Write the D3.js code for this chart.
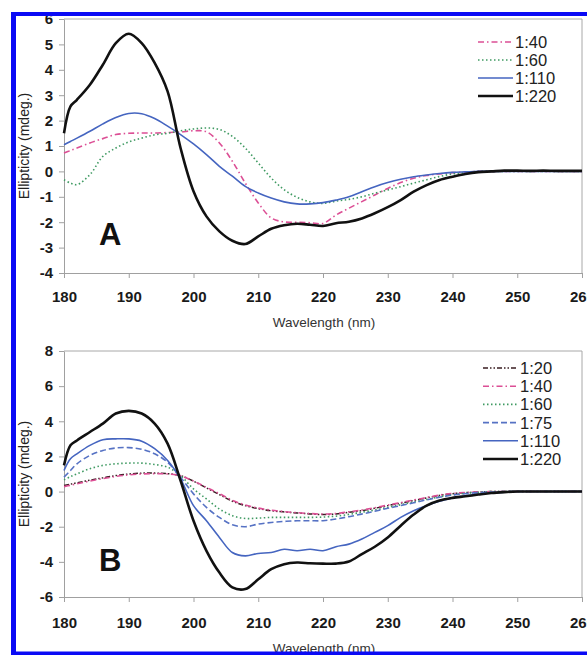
<!DOCTYPE html>
<html>
<head>
<meta charset="utf-8">
<script src="https://cdn.jsdelivr.net/npm/d3@7"></script>
<style>
  body { margin: 0; background: #fff; }
  svg { display: block; font-family: "Liberation Sans", Arial, Helvetica, sans-serif; }
</style>
</head>
<body>
<div id="chart"></div>
<script>
// wavelength grid (nm), shared by every series
let wavelengths = [180, 181, 182, 184, 186, 188, 190, 192, 194, 196, 198, 200, 202, 204, 206, 208, 210,
  212, 214, 216, 218, 220, 222, 224, 226, 228, 230, 232, 234, 236, 238, 240, 242, 244, 246, 248, 250,
  252, 254, 256, 258, 260];

let xTicks = [180, 190, 200, 210, 220, 230, 240, 250, 260];
let yTicksA = [-4, -3, -2, -1, 0, 1, 2, 3, 4, 5, 6];
let yTicksB = [-6, -4, -2, 0, 2, 4, 6, 8];

// panel A
let a40 = [0.72, 0.82, 0.92, 1.12, 1.29, 1.45, 1.5, 1.51, 1.51, 1.53, 1.55, 1.6, 1.56, 1.12, 0.4, -0.46, -1.24,
  -1.83, -1.99, -2.0, -2.02, -2.05, -1.72, -1.45, -1.19, -0.93, -0.67, -0.44, -0.27, -0.16, -0.1, -0.05,
  -0.03, 0, 0, 0, 0, 0, 0, 0, 0, 0];
let a60 = [-0.33, -0.46, -0.52, -0.13, 0.59, 0.92, 1.16, 1.31, 1.44, 1.5, 1.6, 1.67, 1.71, 1.65, 1.38, 0.92, 0.33,
  -0.26, -0.72, -1.02, -1.2, -1.26, -1.17, -1.1, -1.0, -0.86, -0.73, -0.6, -0.46, -0.33, -0.2, -0.1,
  -0.05, 0, 0, 0, 0, 0, 0, 0, 0, 0];
let a110 = [1.05, 1.18, 1.31, 1.58, 1.87, 2.12, 2.28, 2.27, 2.08, 1.78, 1.45, 1.08, 0.66, 0.2, -0.19, -0.59, -0.85,
  -1.05, -1.2, -1.28, -1.28, -1.23, -1.13, -1.0, -0.8, -0.6, -0.44, -0.31, -0.21, -0.14, -0.08, -0.04,
  -0.02, 0, 0, 0, 0, 0, 0, 0, 0, 0];
let a220 = [1.5, 2.56, 2.82, 3.41, 4.2, 5.05, 5.42, 5.05, 4.27, 3.15, 0.92, -0.78, -1.77, -2.36, -2.73, -2.86, -2.56,
  -2.26, -2.12, -2.06, -2.1, -2.15, -2.04, -1.98, -1.85, -1.65, -1.41, -1.13, -0.8, -0.54, -0.34, -0.21,
  -0.1, -0.03, 0, 0.03, 0.03, 0.02, 0.03, 0.02, 0.02, 0.02];

// panel B
let b20 = [0.34, 0.42, 0.5, 0.65, 0.78, 0.91, 1.0, 1.05, 1.05, 1.02, 0.91, 0.59, 0.21, -0.17, -0.55, -0.8, -0.97,
  -1.09, -1.16, -1.22, -1.27, -1.31, -1.28, -1.18, -1.09, -0.95, -0.8, -0.66, -0.51, -0.36, -0.22, -0.12,
  -0.06, -0.03, 0, 0, 0, 0, 0, 0, 0, 0];
let b40 = [0.28, 0.36, 0.44, 0.6, 0.74, 0.86, 0.95, 1.0, 1.02, 1.0, 0.9, 0.6, 0.24, -0.12, -0.5, -0.76, -0.94,
  -1.06, -1.14, -1.2, -1.25, -1.28, -1.25, -1.15, -1.05, -0.92, -0.77, -0.63, -0.48, -0.34, -0.2, -0.11,
  -0.05, -0.02, 0, 0, 0, 0, 0, 0, 0, 0];
let b60 = [0.67, 0.85, 1.01, 1.3, 1.49, 1.58, 1.62, 1.62, 1.54, 1.39, 0.91, 0.15, -0.42, -0.99, -1.37, -1.53, -1.51,
  -1.47, -1.47, -1.47, -1.47, -1.45, -1.4, -1.3, -1.18, -1.05, -0.9, -0.75, -0.6, -0.45, -0.3, -0.18,
  -0.1, -0.05, 0, 0, 0, 0, 0, 0, 0, 0];
let b75 = [0.82, 1.2, 1.58, 2.06, 2.34, 2.48, 2.5, 2.41, 2.15, 1.67, 0.82, -0.13, -0.9, -1.47, -1.89, -2.0, -1.85,
  -1.76, -1.7, -1.66, -1.66, -1.66, -1.56, -1.43, -1.28, -1.12, -0.95, -0.8, -0.64, -0.47, -0.32, -0.2,
  -0.12, -0.06, -0.03, 0, 0, 0, 0, 0, 0, 0];
let b110 = [1.2, 1.87, 2.15, 2.63, 2.95, 3.0, 3.0, 2.87, 2.44, 1.77, 0.72, -0.8, -1.66, -2.61, -3.47, -3.66, -3.52,
  -3.47, -3.28, -3.37, -3.28, -3.37, -3.14, -2.99, -2.7, -2.32, -1.94, -1.47, -1.09, -0.8, -0.55, -0.36,
  -0.24, -0.14, -0.08, -0.03, 0, 0, 0, 0, 0, 0];
let b220 = [1.49, 2.63, 2.91, 3.39, 3.87, 4.44, 4.59, 4.44, 3.87, 2.73, 0.63, -1.66, -3.37, -4.61, -5.45, -5.55, -4.99,
  -4.42, -4.13, -4.04, -4.08, -4.1, -4.1, -3.98, -3.56, -3.14, -2.61, -1.94, -1.31, -0.8, -0.51, -0.36,
  -0.27, -0.17, -0.08, -0.03, 0, 0, 0, 0, 0, 0];

let styles = {
  '1:20': { color: '#3a1e22', width: 1.5, dash: '5,2,1.5,2,1.5,2' },
  '1:40': { color: '#dc4f95', width: 1.6, dash: '6,3,1.5,3' },
  '1:60': { color: '#3f9a62', width: 1.6, dash: '1.5,2.5' },
  '1:75': { color: '#5672c4', width: 1.6, dash: '6,3' },
  '1:110': { color: '#4565c0', width: 1.6, dash: null },
  '1:220': { color: '#111111', width: 2.6, dash: null }
};

let svgWidth = 587;
let svgHeight = 655;

let svg = d3.select('#chart').append('svg')
  .attr('width', svgWidth)
  .attr('height', svgHeight);

function drawPanel(p) {
  let x = d3.scaleLinear().domain([180, 260]).range([p.left, p.right]);
  let y = d3.scaleLinear().domain(p.yDomain).range([p.bottom, p.top]);
  let g = svg.append('g');

  // frame (top + right)
  g.append('path')
    .attr('d', `M${p.left},${p.top}H${p.right}V${p.bottom}`)
    .attr('fill', 'none').attr('stroke', '#a8a8a8').attr('stroke-width', 1);

  let xAxis = g.append('g')
    .attr('transform', `translate(0,${p.bottom})`)
    .call(d3.axisBottom(x).tickValues(xTicks).tickSize(5).tickSizeOuter(0).tickPadding(p.xPad));
  let yAxis = g.append('g')
    .attr('transform', `translate(${p.left},0)`)
    .call(d3.axisLeft(y).tickValues(p.yTicks).tickSize(5).tickSizeOuter(0).tickPadding(6));

  [xAxis, yAxis].forEach(ax => {
    ax.select('.domain').attr('stroke', '#a0a0a0');
    ax.selectAll('.tick line').attr('stroke', '#a0a0a0');
    ax.selectAll('.tick text')
      .attr('fill', '#1a1a1a')
      .style('font-size', '15px')
      .style('font-weight', 'bold')
      .style('font-family', '"Liberation Sans", Arial, sans-serif');
  });
  yAxis.selectAll('.tick text').text(d => d < 0 ? '-' + Math.abs(d) : d);

  let line = d3.line()
    .x((d, i) => x(wavelengths[i]))
    .y(d => y(d))
    .curve(d3.curveCatmullRom.alpha(0.5));

  p.series.forEach(s => {
    let st = styles[s.name];
    g.append('path')
      .datum(s.values)
      .attr('d', line)
      .attr('fill', 'none')
      .attr('stroke', st.color)
      .attr('stroke-width', st.width)
      .attr('stroke-dasharray', st.dash)
      .attr('stroke-linejoin', 'round');
  });

  // legend
  let leg = g.append('g');
  p.series.forEach((s, i) => {
    let st = styles[s.name];
    let ly = p.legY + i * p.legStep;
    leg.append('line')
      .attr('x1', p.legX).attr('x2', p.legX + 35)
      .attr('y1', ly).attr('y2', ly)
      .attr('stroke', st.color)
      .attr('stroke-width', st.width)
      .attr('stroke-dasharray', st.dash);
    leg.append('text')
      .attr('x', p.legX + 37).attr('y', ly + 6)
      .attr('font-size', 16.5)
      .attr('fill', '#222')
      .text(s.name);
  });

  g.append('text')
    .attr('x', p.labelX).attr('y', p.labelY)
    .attr('font-size', 31).attr('font-weight', 'bold').attr('fill', '#111')
    .text(p.label);

  g.append('text')
    .attr('x', 324).attr('y', p.xTitleY)
    .attr('text-anchor', 'middle')
    .attr('font-size', 13.5).attr('fill', '#333')
    .text('Wavelength (nm)');

  g.append('text')
    .attr('transform', `translate(29,${(p.top + p.bottom) / 2}) rotate(-90)`)
    .attr('text-anchor', 'middle')
    .attr('font-size', 14).attr('fill', '#222')
    .text('Ellipticity (mdeg.)');
}

drawPanel({
  left: 64, right: 582, top: 19, bottom: 273,
  yDomain: [-4, 6], yTicks: yTicksA, xPad: 13,
  series: [
    { name: '1:40', values: a40 },
    { name: '1:60', values: a60 },
    { name: '1:110', values: a110 },
    { name: '1:220', values: a220 }
  ],
  legX: 478, legY: 42, legStep: 18,
  label: 'A', labelX: 99, labelY: 245,
  xTitleY: 327
});

drawPanel({
  left: 64, right: 582, top: 351, bottom: 597,
  yDomain: [-6, 8], yTicks: yTicksB, xPad: 15,
  series: [
    { name: '1:20', values: b20 },
    { name: '1:40', values: b40 },
    { name: '1:60', values: b60 },
    { name: '1:75', values: b75 },
    { name: '1:110', values: b110 },
    { name: '1:220', values: b220 }
  ],
  legX: 483, legY: 368, legStep: 18.2,
  label: 'B', labelX: 99, labelY: 571,
  xTitleY: 653
});

// blue border of the figure
svg.append('rect').attr('x', 11).attr('y', 12).attr('width', 5).attr('height', 643).attr('fill', '#0a0af5');
svg.append('rect').attr('x', 11).attr('y', 12).attr('width', 576).attr('height', 4).attr('fill', '#0a0af5');
svg.append('rect').attr('x', 11).attr('y', 651.5).attr('width', 576).attr('height', 3.5).attr('fill', '#0a0af5');
</script>
</body>
</html>
